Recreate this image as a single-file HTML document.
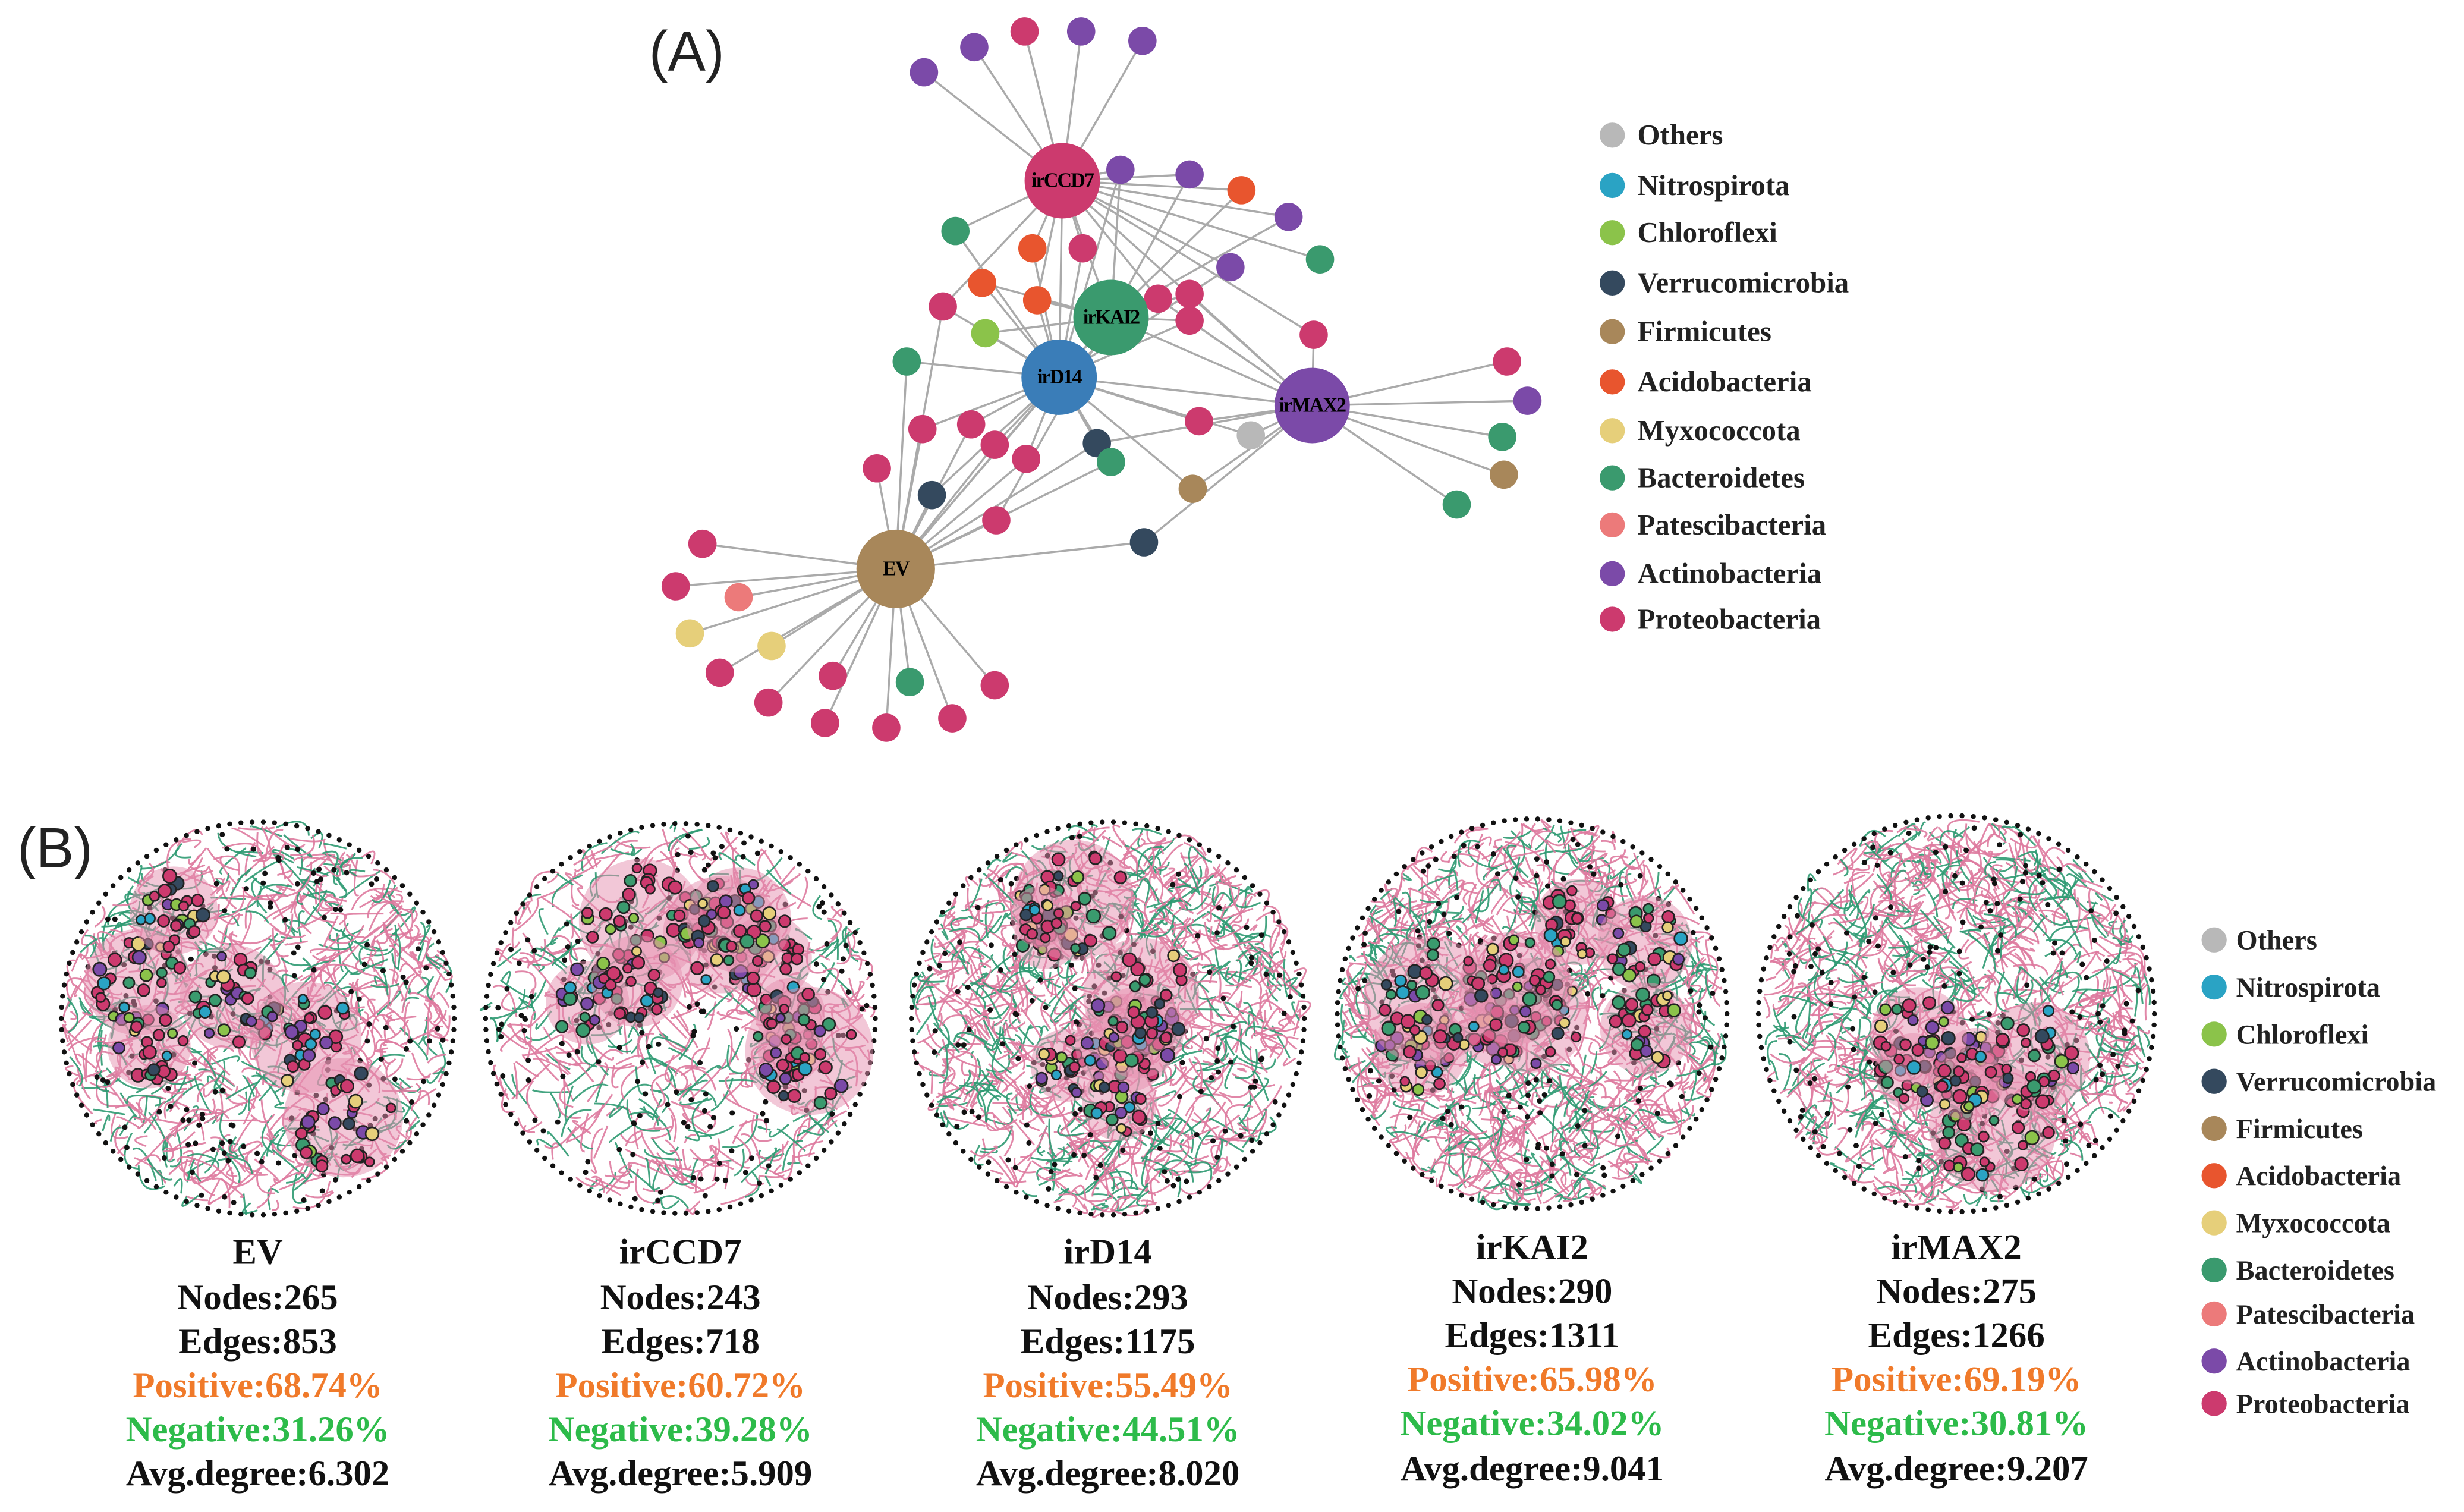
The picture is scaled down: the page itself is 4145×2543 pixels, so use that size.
<!DOCTYPE html>
<html><head><meta charset="utf-8">
<style>
html,body{margin:0;padding:0;background:#fff;}
svg{display:block;}
.lg{font-family:"Liberation Serif",serif;font-weight:bold;font-size:18.5px;fill:#222;}
.lb{font-family:"Liberation Serif",serif;font-weight:bold;font-size:17.5px;fill:#222;}
.st{font-family:"Liberation Serif",serif;font-weight:bold;font-size:23px;text-anchor:middle;}
.hub{font-family:"Liberation Serif",serif;font-weight:bold;font-size:13px;text-anchor:middle;fill:#000;letter-spacing:-0.8px;}
</style></head><body>
<svg id="s" width="4145" height="2543" viewBox="0 0 1568 962" xmlns="http://www.w3.org/2000/svg">
<rect width="1568" height="962" fill="#fff"/>
<text x="437" y="45" font-family="Liberation Sans,sans-serif" font-size="36" text-anchor="middle" fill="#222">(A)</text>
<text x="35" y="552" font-family="Liberation Sans,sans-serif" font-size="36" text-anchor="middle" fill="#222">(B)</text>
<g id="edgesA" stroke="#aaa" stroke-width="1.3"></g>
<g id="nodesA"></g>
<g id="net"></g>
<g id="legend"></g>
<g>
<text class="st" x="164" y="804" fill="#111">EV</text>
<text class="st" x="164" y="833" fill="#111">Nodes:265</text>
<text class="st" x="164" y="861" fill="#111">Edges:853</text>
<text class="st" x="164" y="889" fill="#f07a2a">Positive:68.74%</text>
<text class="st" x="164" y="917" fill="#2dbb4a">Negative:31.26%</text>
<text class="st" x="164" y="945" fill="#111">Avg.degree:6.302</text>

<text class="st" x="433" y="804" fill="#111">irCCD7</text>
<text class="st" x="433" y="833" fill="#111">Nodes:243</text>
<text class="st" x="433" y="861" fill="#111">Edges:718</text>
<text class="st" x="433" y="889" fill="#f07a2a">Positive:60.72%</text>
<text class="st" x="433" y="917" fill="#2dbb4a">Negative:39.28%</text>
<text class="st" x="433" y="945" fill="#111">Avg.degree:5.909</text>

<text class="st" x="705" y="804" fill="#111">irD14</text>
<text class="st" x="705" y="833" fill="#111">Nodes:293</text>
<text class="st" x="705" y="861" fill="#111">Edges:1175</text>
<text class="st" x="705" y="889" fill="#f07a2a">Positive:55.49%</text>
<text class="st" x="705" y="917" fill="#2dbb4a">Negative:44.51%</text>
<text class="st" x="705" y="945" fill="#111">Avg.degree:8.020</text>

<text class="st" x="975" y="801" fill="#111">irKAI2</text>
<text class="st" x="975" y="829" fill="#111">Nodes:290</text>
<text class="st" x="975" y="857" fill="#111">Edges:1311</text>
<text class="st" x="975" y="885" fill="#f07a2a">Positive:65.98%</text>
<text class="st" x="975" y="913" fill="#2dbb4a">Negative:34.02%</text>
<text class="st" x="975" y="942" fill="#111">Avg.degree:9.041</text>

<text class="st" x="1245" y="801" fill="#111">irMAX2</text>
<text class="st" x="1245" y="829" fill="#111">Nodes:275</text>
<text class="st" x="1245" y="857" fill="#111">Edges:1266</text>
<text class="st" x="1245" y="885" fill="#f07a2a">Positive:69.19%</text>
<text class="st" x="1245" y="913" fill="#2dbb4a">Negative:30.81%</text>
<text class="st" x="1245" y="942" fill="#111">Avg.degree:9.207</text>
</g>
</svg>
<script>
var NS="http://www.w3.org/2000/svg";
function el(p,t,a,txt){var e=document.createElementNS(NS,t);for(var k in a)e.setAttribute(k,a[k]);if(txt)e.textContent=txt;p.appendChild(e);return e;}
var C={o:"#b8b8b8",n:"#2aa3c4",c:"#8bc34a",v:"#34495e",f:"#a8875a",a:"#e8552e",m:"#e6cf7a",b:"#3a9a6e",s:"#ec7a7a",ac:"#7b4aa8",p:"#cc3a6e",g:"#3a9a6e"};
var names=[["Others","o"],["Nitrospirota","n"],["Chloroflexi","c"],["Verrucomicrobia","v"],["Firmicutes","f"],["Acidobacteria","a"],["Myxococcota","m"],["Bacteroidetes","b"],["Patescibacteria","s"],["Actinobacteria","ac"],["Proteobacteria","p"]];
var L=document.getElementById("legend");
var ya=[86,118,148,180,211,243,274,304,334,365,394];
var yb=[598,628,658,688,718,748,778,808,836,866,893];
names.forEach(function(n,i){
 el(L,"circle",{cx:1026,cy:ya[i],r:8,fill:C[n[1]]});
 el(L,"text",{x:1042,y:ya[i]+6,"class":"lg"},n[0]);
 el(L,"circle",{cx:1409,cy:yb[i],r:8,fill:C[n[1]]});
 el(L,"text",{x:1423,y:yb[i]+6,"class":"lb"},n[0]);
});
var H={CCD7:[676,115,"p","irCCD7"],KAI2:[707,202,"g","irKAI2"],D14:[674,240,"n2","irD14"],MAX2:[835,258,"ac","irMAX2"],EV:[570,362,"f","EV"]};
C.n2="#3a7db8";
var S=[[588,46,"ac","CCD7"],[620,30,"ac","CCD7"],[652,20,"p","CCD7"],[688,20,"ac","CCD7"],[727,26,"ac","CCD7"],
[713,108,"ac","CCD7 KAI2 D14"],[757,111,"ac","CCD7 KAI2"],[790,121,"a","KAI2 CCD7"],[820,138,"ac","CCD7 KAI2"],[840,165,"g","CCD7"],[783,170,"ac","CCD7 D14"],
[608,147,"g","CCD7 D14"],[657,158,"a","CCD7 D14"],[689,158,"p","CCD7 D14"],[625,180,"a","KAI2 D14"],[660,191,"a","KAI2 D14 CCD7"],[600,195,"p","D14 CCD7 EV"],
[627,212,"c","KAI2 D14"],[737,190,"p","MAX2 CCD7 D14"],[757,187,"p","MAX2 KAI2"],[757,204,"p","MAX2 D14 KAI2"],[836,213,"p","CCD7 MAX2"],[577,230,"g","D14 EV"],
[959,230,"p","MAX2"],[972,255,"ac","MAX2"],[956,278,"g","MAX2"],[957,302,"f","MAX2"],[927,321,"g","MAX2"],[763,268,"p","MAX2 D14"],[796,277,"o","MAX2 D14"],
[587,273,"p","D14 EV"],[618,270,"p","D14 EV"],[633,283,"p","D14 EV"],[698,282,"v","D14 MAX2 EV"],[707,294,"g","D14 EV"],[653,292,"p","D14 EV"],[558,298,"p","EV"],
[593,315,"v","EV D14"],[759,311,"f","D14 MAX2"],[634,331,"p","EV KAI2"],[728,345,"v","EV MAX2"],
[447,346,"p","EV"],[430,373,"p","EV"],[470,380,"s","EV"],[439,403,"m","EV"],[491,411,"m","EV"],[458,428,"p","EV"],[489,447,"p","EV"],[525,460,"p","EV"],[530,430,"p","EV"],[564,463,"p","EV"],[579,434,"g","EV"],[606,457,"p","EV"],[633,436,"p","EV"]];
var EA=document.getElementById("edgesA"),NA=document.getElementById("nodesA");
[["CCD7","KAI2"],["CCD7","D14"],["KAI2","D14"],["KAI2","MAX2"],["D14","MAX2"],["CCD7","MAX2"],["D14","EV"],["KAI2","EV"]].forEach(function(p){var a=H[p[0]],b=H[p[1]];el(EA,"line",{x1:a[0],y1:a[1],x2:b[0],y2:b[1]});});
S.forEach(function(s){s[3].split(" ").forEach(function(h){var a=H[h];el(EA,"line",{x1:a[0],y1:a[1],x2:s[0],y2:s[1]});});});
S.forEach(function(s){el(NA,"circle",{cx:s[0],cy:s[1],r:9,fill:C[s[2]]});});
for(var k in H){var h=H[k];el(NA,"circle",{cx:h[0],cy:h[1],r:k=="EV"?25:24,fill:C[h[2]]});el(NA,"text",{x:h[0],y:h[1]+4,"class":"hub"},h[3]);}
var seed=7;function R(){seed=(seed*16807)%2147483647;return (seed-1)/2147483646;}
var G=document.getElementById("net");
var cols=["p","p","p","p","p","p","ac","ac","g","g","c","m","v","n"];
var circ=[[164,648,126],[433,648,125],[705,648,126],[975,645,125],[1245,645,127]];
var dens=[1.1,0.75,1.3,1.4,1.4];
circ.forEach(function(c,ci){
 var cx=c[0],cy=c[1],r=c[2];
 var eg=el(G,"g",{fill:"none","stroke-width":1.1});
 var ne=Math.floor(800*dens[ci]);
 function pt(rr){var a=R()*6.283,d=Math.sqrt(R())*rr;return [cx+Math.cos(a)*d,cy+Math.sin(a)*d];}
 for(var i=0;i<ne;i++){var p=pt(r-4),q=[p[0]+(R()-0.5)*50,p[1]+(R()-0.5)*50];
  var dx=q[0]-cx,dy=q[1]-cy,dd=Math.sqrt(dx*dx+dy*dy);if(dd>r-4){q[0]=cx+dx/dd*(r-4);q[1]=cy+dy/dd*(r-4);}
  var m=[(p[0]+q[0])/2+(R()-0.5)*30,(p[1]+q[1])/2+(R()-0.5)*30];
  el(eg,"path",{d:"M"+p[0].toFixed(1)+","+p[1].toFixed(1)+"Q"+m[0].toFixed(1)+","+m[1].toFixed(1)+" "+q[0].toFixed(1)+","+q[1].toFixed(1),stroke:R()<0.64?"#de7a9e":"#2f9a72",opacity:0.9});}
 var ng=el(G,"g",{});
 for(var i=0;i<110;i++){var a=i/110*6.283;el(ng,"circle",{cx:cx+Math.cos(a)*(r-1),cy:cy+Math.sin(a)*(r-1),r:1.6,fill:"#111"});}
 for(var i=0;i<160;i++){var p=pt(r-6);el(ng,"circle",{cx:p[0],cy:p[1],r:1.7,fill:"#111"});}
 var ncl=6+Math.floor(R()*4);
 for(var k=0;k<ncl;k++){var cc=pt(r-38),cr=14+R()*24,n=Math.floor(cr*1.0);
  el(ng,"circle",{cx:cc[0],cy:cc[1],r:cr+4,fill:"#e58fb0",opacity:0.5});
  for(var j=0;j<n;j++){var a=R()*6.283,d=Math.sqrt(R())*cr;
   el(ng,"circle",{cx:cc[0]+Math.cos(a)*d,cy:cc[1]+Math.sin(a)*d,r:2.8+R()*1.5,fill:C[cols[Math.floor(R()*cols.length)]],stroke:"#222","stroke-width":1});}}
});
</script>
</body></html>
